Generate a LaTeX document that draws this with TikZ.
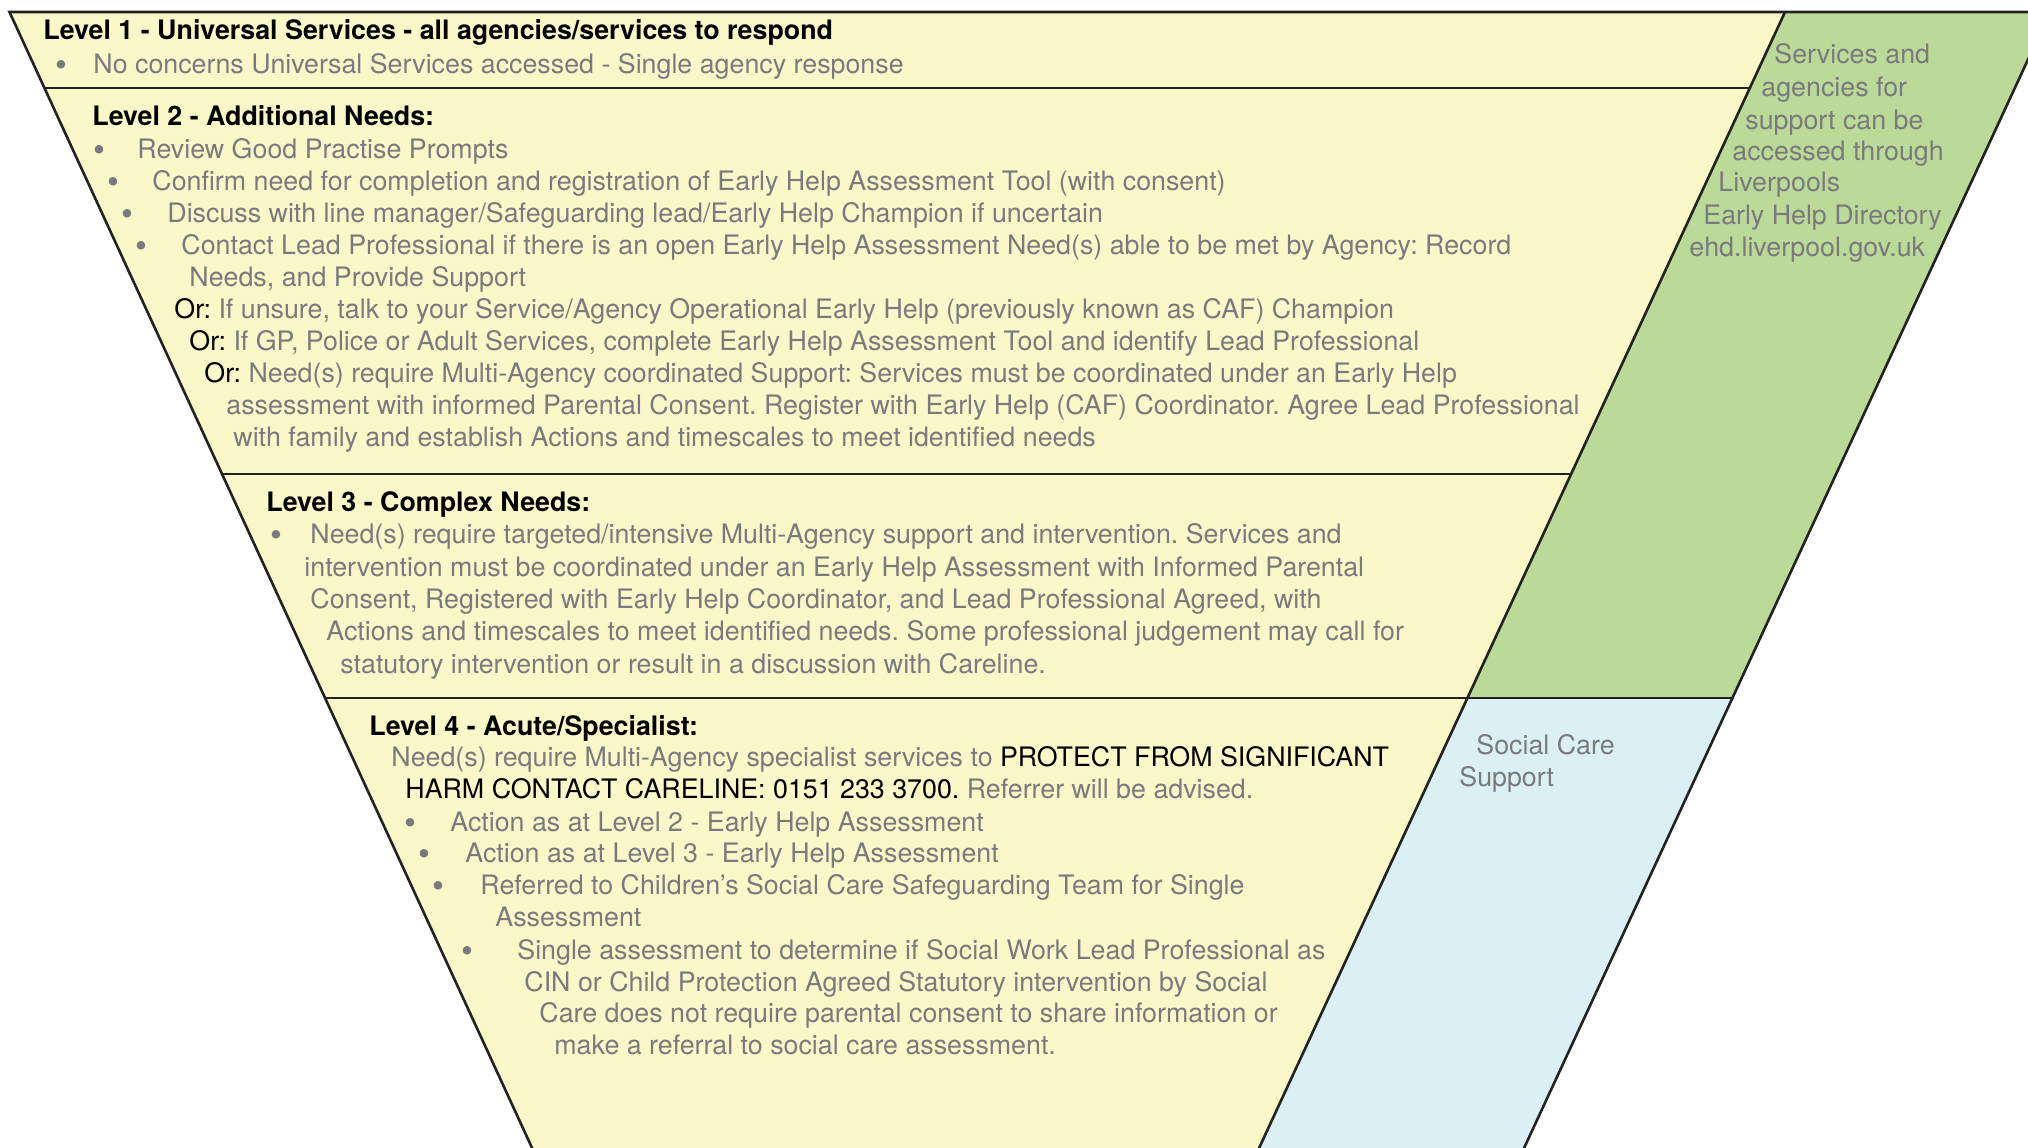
\documentclass[tikz,border=0pt]{standalone}
\usepackage{fontspec}
\setmainfont{TeX Gyre Heros}
\frenchspacing
\definecolor{yel}{RGB}{250,248,200}
\definecolor{grn}{RGB}{188,218,151}
\definecolor{blu}{RGB}{219,240,245}
\definecolor{tgray}{RGB}{122,122,126}
\definecolor{edge}{RGB}{34,34,34}
\newcommand{\fs}{\fontsize{13.4}{16}\selectfont\frenchspacing}
\newcommand{\fb}{\fontsize{17}{16}\selectfont}
\tikzset{
  txt/.style={anchor=base west, inner sep=0pt, text=tgray, font=\fs},
  ttl/.style={anchor=base west, inner sep=0pt, text=black, font=\fs\bfseries},
  bul/.style={anchor=base, inner sep=0pt, text=tgray, font=\fb, yshift=-1.5pt},
  bord/.style={draw=edge, line width=1.3pt},
}
\begin{document}
\begin{tikzpicture}[x=0.5pt,y=-0.5pt]
\useasboundingbox (0,0) rectangle (2028,1147);
\clip (0,0) rectangle (2028,1147);
% shapes
\fill[yel] (9.5,12) -- (1785,12) -- (1235,1200) -- (556,1200) -- cycle;
\fill[grn] (1785,12) -- (2050,12) -- (1732.4,698) -- (1467.4,698) -- cycle;
\fill[blu] (1467.4,698) -- (1732.4,698) -- (1500,1200) -- (1235,1200) -- cycle;
\draw[bord] (556,1200) -- (9.5,12) -- (2050,12);
\draw[bord] (1785,12) -- (1235,1200);
\draw[bord] (2050,12) -- (1500,1200);
\draw[bord] (44.5,88) -- (1749.8,88);
\draw[bord] (222,474) -- (1571,474);
\draw[bord] (325,698) -- (1732.4,698);
% Level 1
\node[ttl] (t1) at (43,39) {Level 1 - Universal Services - all agencies/services to respond};
\node[bul] (b11) at (61,73) {\textbullet};
\node[txt] (l11) at (93,73) {No concerns Universal Services accessed - Single agency response};
% Level 2
\node[ttl] (t2) at (92,125) {Level 2 - Additional Needs:};
\node[bul] (b21) at (99,158) {\textbullet};
\node[txt] (l21) at (137,158) {Review Good Practise Prompts};
\node[bul] (b22) at (113,190) {\textbullet};
\node[txt] (l22) at (152,190) {Confirm need for completion and registration of Early Help Assessment Tool (with consent)};
\node[bul] (b23) at (127,222) {\textbullet};
\node[txt] (l23) at (167,222) {Discuss with line manager/Safeguarding lead/Early Help Champion if uncertain};
\node[bul] (b24) at (141,254) {\textbullet};
\node[txt] (l24) at (181,254) {Contact Lead Professional if there is an open Early Help Assessment Need(s) able to be met by Agency: Record};
\node[txt] (l25) at (189,286) {Needs, and Provide Support};
\node[txt] (l26) at (174,318) {\textcolor{black}{Or:} If unsure, talk to your Service/Agency Operational Early Help (previously known as CAF) Champion};
\node[txt] (l27) at (189,350) {\textcolor{black}{Or:} If GP, Police or Adult Services, complete Early Help Assessment Tool and identify Lead Professional};
\node[txt] (l28) at (204,382) {\textcolor{black}{Or:} Need(s) require Multi-Agency coordinated Support: Services must be coordinated under an Early Help};
\node[txt] (l29) at (226,414) {assessment with informed Parental Consent. Register with Early Help (CAF) Coordinator. Agree Lead Professional};
\node[txt] (l2a) at (233,446) {with family and establish Actions and timescales to meet identified needs};
% Level 3
\node[ttl] (t3) at (266,511) {Level 3 - Complex Needs:};
\node[bul] (b31) at (276,543) {\textbullet};
\node[txt] (l31) at (310,543) {Need(s) require targeted/intensive Multi-Agency support and intervention. Services and};
\node[txt] (l32) at (304,576) {intervention must be coordinated under an Early Help Assessment with Informed Parental};
\node[txt] (l33) at (310,608) {Consent, Registered with Early Help Coordinator, and Lead Professional Agreed, with};
\node[txt] (l34) at (326,640) {Actions and timescales to meet identified needs. Some professional judgement may call for};
\node[txt] (l35) at (340,673) {statutory intervention or result in a discussion with Careline.};
% Level 4
\node[ttl] (t4) at (369,735) {Level 4 - Acute/Specialist:};
\node[txt] (l41) at (391,766) {Need(s) require Multi-Agency specialist services to \textcolor{black}{PROTECT FROM SIGNIFICANT}};
\node[txt] (l42) at (405,798) {\textcolor{black}{HARM CONTACT CARELINE: 0151 233 3700.} Referrer will be advised.};
\node[bul] (b41) at (410,831) {\textbullet};
\node[txt] (l43) at (450,831) {Action as at Level 2 - Early Help Assessment};
\node[bul] (b42) at (424,862) {\textbullet};
\node[txt] (l44) at (465,862) {Action as at Level 3 - Early Help Assessment};
\node[bul] (b43) at (438,894) {\textbullet};
\node[txt] (l45) at (480,894) {Referred to Children’s Social Care Safeguarding Team for Single};
\node[txt] (l46) at (495,926) {Assessment};
\node[bul] (b44) at (467,959) {\textbullet};
\node[txt] (l47) at (517,959) {Single assessment to determine if Social Work Lead Professional as};
\node[txt] (l48) at (524,991) {CIN or Child Protection Agreed Statutory intervention by Social};
\node[txt] (l49) at (539,1022) {Care does not require parental consent to share information or};
\node[txt] (l4a) at (554,1054) {make a referral to social care assessment.};
% Green band
\node[txt] (g1) at (1774,63) {Services and};
\node[txt] (g2) at (1761,96) {agencies for};
\node[txt] (g3) at (1745,129) {support can be};
\node[txt] (g4) at (1732,160) {accessed through};
\node[txt] (g5) at (1718,191) {Liverpools};
\node[txt] (g6) at (1703,224) {Early Help Directory};
\node[txt] (g7) at (1689,256) {ehd.liverpool.gov.uk};
% Blue band
\node[txt] (s1) at (1476,754) {Social Care};
\node[txt] (s2) at (1459,786) {Support};
\end{tikzpicture}
\end{document}
